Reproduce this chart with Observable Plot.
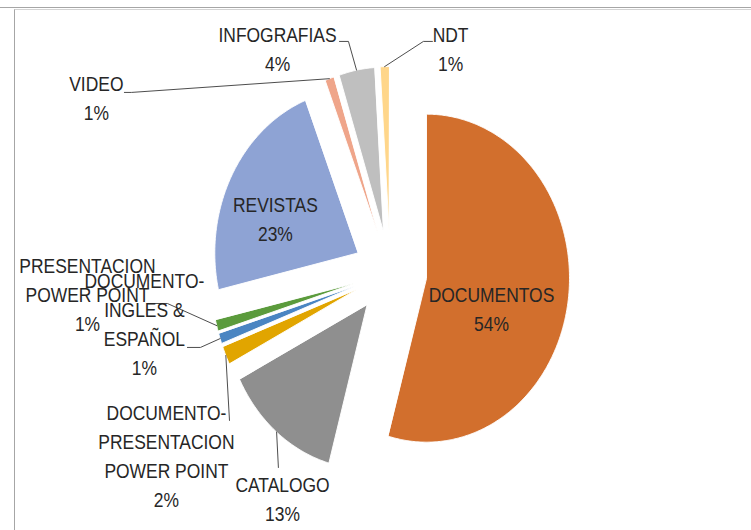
<!DOCTYPE html>
<html><head><meta charset="utf-8">
<script src="https://cdn.jsdelivr.net/npm/d3@7"></script>
<script src="https://cdn.jsdelivr.net/npm/@observablehq/plot@0.6"></script>
<style>
html,body{margin:0;padding:0;background:#fff;overflow:hidden}
#wrap{position:relative;width:751px;height:530px;overflow:hidden;background:#fff}
#topline{position:absolute;left:0;top:7px;width:751px;height:0;border-top:1px solid #A6A6A6}
#box{position:absolute;left:14px;top:9px;width:760px;height:540px;border-left:1px solid #A6A6A6;border-top:1px solid #D4D4D4}
#chart{position:absolute;left:0;top:0;width:861px;height:530px;transform:scaleX(0.872);transform-origin:0 0}
#chart svg{max-width:none !important;width:861px;height:530px;display:block}
</style></head><body>
<div id="wrap"><div id="topline"></div><div id="box"></div><div id="chart"></div></div>
<script>
// ---- data ----
const categories = ["DOCUMENTOS", "CATALOGO", "DOCUMENTO-PRESENTACION POWER POINT", "DOCUMENTO-INGLES & ESPAÑOL", "PRESENTACION POWER POINT", "REVISTAS", "VIDEO", "INFOGRAFIAS", "NDT"];
const values = [54.3, 13.2, 1.8, 1.0, 1.1, 22.6, 1.0, 4.0, 1.0];
const labelText = ["DOCUMENTOS", "CATALOGO", "DOCUMENTO-\nPRESENTACION\nPOWER POINT", "DOCUMENTO-\nINGLES &\nESPAÑOL", "PRESENTACION\nPOWER POINT", "REVISTAS", "VIDEO", "INFOGRAFIAS", "NDT"];
const colors = ["#D26F2D", "#8F8F8F", "#E1A500", "#4A85C2", "#5B9B3C", "#8EA3D4", "#EFA58A", "#BFBFBF", "#FFD68A"];

// ---- layout (pie units: radius = 1) ----
const W = 861, H = 530, CX = 447, CY = 272, R = 164, EXPLODE = 0.256;
const labelPos = [[0.708, -0.053], [-0.753, -1.212], [-1.565, -0.773], [-1.719, 0.032], [-2.117, 0.123], [-0.803, 0.495], [-2.055, 1.233], [-0.788, 1.532], [0.422, 1.532]];
const leaderAnchors = [null, [[-0.782, -1.189]], [[-1.124, -0.902]], [[-1.418, -0.457], [-1.327, -0.457]], [[-1.698, -0.189], [-1.558, -0.189]], null, [[-1.859, 1.098], [-1.81, 1.098]], [[-0.355, 1.409], [-0.292, 1.409]], [[0.295, 1.409], [0.232, 1.409]]];

const total = d3.sum(values);
const rad = a => a * Math.PI / 180;
let acc = 0;
const slices = categories.map((name, i) => {
  const a0 = acc / total * 360; acc += values[i]; const a1 = acc / total * 360;
  const mid = (a0 + a1) / 2;
  return {name, a0, a1, mid, off: [EXPLODE * Math.sin(rad(mid)), EXPLODE * Math.cos(rad(mid))]};
});
const arcPt = (s, a) => [Math.sin(rad(a)) + s.off[0], Math.cos(rad(a)) + s.off[1]];

const slicePts = slices.flatMap(s => {
  const n = Math.max(2, Math.ceil((s.a1 - s.a0) / 0.5));
  const pts = [{name: s.name, x: s.off[0], y: s.off[1]}];
  for (let k = 0; k <= n; k++) { const [x, y] = arcPt(s, s.a0 + (s.a1 - s.a0) * k / n); pts.push({name: s.name, x, y}); }
  return pts;
});
const leaderPts = slices.flatMap((s, i) => {
  if (!leaderAnchors[i]) return [];
  const end = arcPt(s, s.mid);
  return [...leaderAnchors[i], end].map(([x, y]) => ({name: s.name, x, y}));
});
const labels = slices.map((s, i) => ({x: labelPos[i][0], y: labelPos[i][1], text: labelText[i] + "\n" + Math.round(values[i] / total * 100) + "%"}));

const chart = Plot.plot({
  width: W, height: H, margin: 0,
  x: {domain: [-CX / R, (W - CX) / R], range: [0, W], axis: null},
  y: {domain: [-(H - CY) / R, CY / R], range: [H, 0], axis: null},
  color: {domain: categories, range: colors},
  style: {fontFamily: "'Liberation Sans', Arial, sans-serif", background: "transparent", overflow: "visible", maxWidth: "none"},
  marks: [
    Plot.line(slicePts, {x: "x", y: "y", z: "name", fill: "name", stroke: "white", strokeWidth: 1, curve: "linear-closed"}),
    Plot.line(leaderPts, {x: "x", y: "y", z: "name", stroke: "#404040", strokeWidth: 1}),
    Plot.text(labels, {x: "x", y: "y", text: "text", textAnchor: "middle", lineAnchor: "top", lineHeight: 1.45, fontSize: 20, fill: "#262626"})
  ]
});
document.getElementById("chart").appendChild(chart);
</script>
</body></html>
